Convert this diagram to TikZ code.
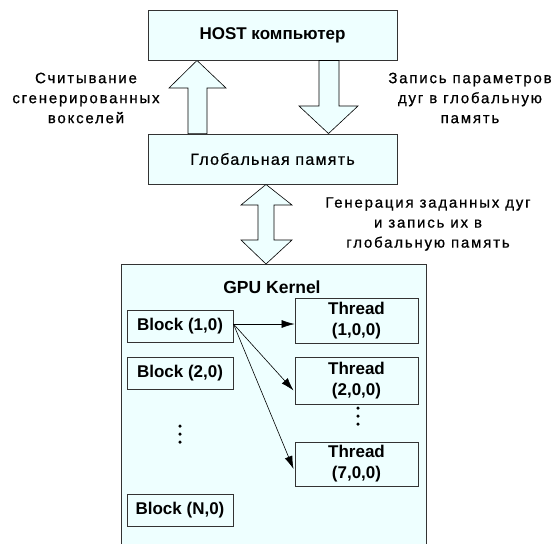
\documentclass[tikz,border=0pt]{standalone}
\usepackage{fontspec}
\setmainfont{Liberation Sans}
\newfontfamily\lblfont[LetterSpace=12,FakeBold=0.7]{Liberation Sans}
\newfontfamily\glbfont[LetterSpace=8,FakeBold=0.7]{Liberation Sans}
\usetikzlibrary{arrows.meta,calc}
\definecolor{boxfill}{HTML}{EEFFFF}
\definecolor{edge}{HTML}{333333}
\begin{document}
\begin{tikzpicture}[x=1pt,y=-1pt,
  topbox/.style={draw=edge,line width=0.9pt,fill=boxfill,minimum width=249pt,minimum height=50pt,inner sep=0pt},
  blockbox/.style={draw=edge,line width=0.9pt,fill=boxfill,minimum width=106pt,minimum height=32pt,inner sep=0pt,font=\fontsize{17}{20}\selectfont\bfseries},
  threadbox/.style={draw=edge,line width=0.9pt,fill=boxfill,minimum width=123pt,inner sep=0pt,align=center,font=\fontsize{17}{21}\selectfont\bfseries},
  bigarrow/.style={draw=black,line width=0.6pt,fill=boxfill,line join=miter},
  lbl/.style={align=center,inner sep=0pt,font=\fontsize{15}{20}\selectfont\lblfont},
  thin/.style={draw=black,line width=0.6pt,-{Latex[length=13pt,width=8pt]}},
  dot/.style={circle,fill=black,inner sep=0pt,minimum size=3.5pt}
]
\useasboundingbox (0,0) rectangle (558,544);
% GPU container
\path[draw=edge,line width=0.9pt,fill=boxfill] (121,264) rectangle (426,560);
\node[inner sep=0pt,font=\fontsize{17.5}{20}\selectfont\bfseries] (gpu) at (272,287) {GPU Kernel};

% top boxes
\node[topbox,font=\fontsize{17}{20}\selectfont\bfseries] (host) at (272.5,35) {HOST компьютер};
\node[topbox,font=\fontsize{16}{20}\selectfont\glbfont] (glob) at (272.5,159) {Глобальная память};

% up arrow (glob -> host)
\path[bigarrow] (188,0 |- glob.north) -- (188,88) -- (169,88) -- (197,0 |- host.south) -- (226,88) -- (207,88) -- (207,0 |- glob.north) -- cycle;
% down arrow (host -> glob)
\path[bigarrow] (319,0 |- host.south) -- (319,106) -- (299,106) -- (328.5,0 |- glob.north) -- (358,106) -- (339,106) -- (339,0 |- host.south) -- cycle;
% double arrow (glob <-> gpu)
\coordinate (dtop) at (266,0 |- glob.south);
\coordinate (dbot) at (266,264);
\path[bigarrow] (dtop) -- (292,205) -- (274,205) -- (274,240) -- (292,240) -- (dbot) -- (241,240) -- (258,240) -- (258,205) -- (241,205) -- cycle;

% labels
\node[lbl] (l1) at (86,98) {Считывание\\сгенерированных\\вокселей};
\node[lbl] (l2) at (470,98) {Запись параметров\\дуг в глобальную\\память};
\node[lbl] (l3) at (428,224) {Генерация заданных дуг\\и запись их в\\глобальную память};

% blocks
\node[blockbox] (b1) at (180,326) {Block (1,0)};
\node[blockbox] (b2) at (180,373) {Block (2,0)};
\node[blockbox] (bn) at (180,510.5) {Block (N,0)};
\node[dot] (ld1) at (180,426) {};
\node[dot] (ld2) at (180,434) {};
\node[dot] (ld3) at (180,442) {};

% threads
\node[threadbox,minimum height=45pt] (t1) at (356.5,320.5) {Thread\\(1,0,0)};
\node[threadbox,minimum height=47pt] (t2) at (356.5,380.5) {Thread\\(2,0,0)};
\node[threadbox,minimum height=44pt] (t7) at (356.5,464) {Thread\\(7,0,0)};
\node[dot] (rd1) at (358,408) {};
\node[dot] (rd2) at (358,416) {};
\node[dot] (rd3) at (358,424) {};

% connectors
\coordinate (bs) at ($(b1.east)+(0,-2)$);
\draw[thin] (bs) -- (bs -| t1.west);
\draw[thin] (bs) -- ($(t2.west)+(-1,10)$);
\draw[thin] (bs) -- ($(t7.west)+(-1,5)$);
\end{tikzpicture}
\end{document}
